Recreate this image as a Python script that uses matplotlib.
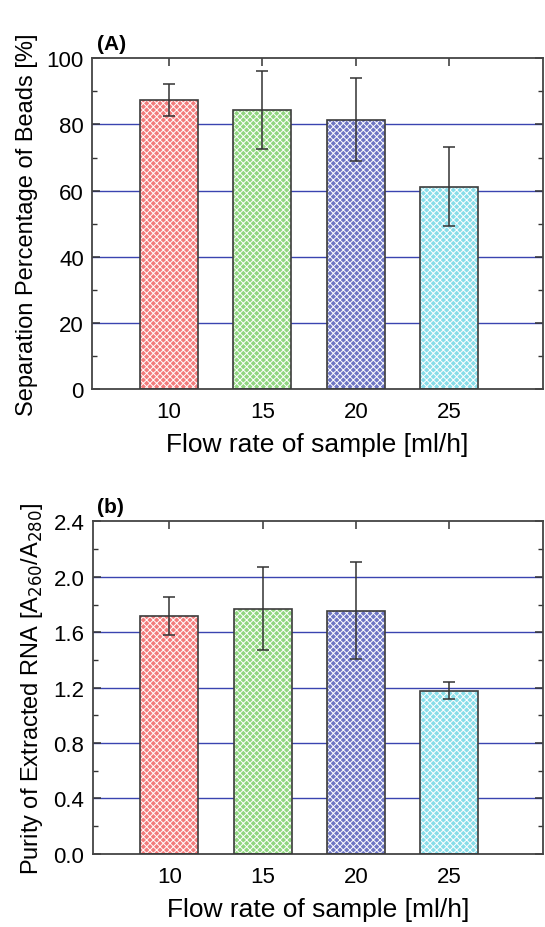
import matplotlib.pyplot as plt
import numpy as np
from matplotlib.ticker import MultipleLocator

plt.rcParams['font.family'] = ['Liberation Sans', 'DejaVu Sans']
plt.rcParams['hatch.linewidth'] = 0.7

flow = [10, 15, 20, 25]
sep = [87.3, 84.5, 81.5, 61.2]
sep_err = [4.8, 11.8, 12.7, 12.0]
purity = [1.717, 1.77, 1.754, 1.177]
purity_err = [0.14, 0.30, 0.35, 0.06]
colors = ['#f27c7c', '#90d680', '#6e76c4', '#88dde9']

fig = plt.figure(figsize=(5.45, 9.28), dpi=100)
ax1 = fig.add_axes([0.169, 0.580, 0.827, 0.356])
ax2 = fig.add_axes([0.170, 0.079, 0.826, 0.358])


def draw(ax, vals, errs, ymax, major, minor, ylabel, tag):
    ax.set_axisbelow(True)
    for y in np.arange(major, ymax - 1e-9, major):
        ax.axhline(y, color='#3a44b0', lw=1.0, zorder=0)
    ax.bar(flow, vals, width=3.1, color=colors, hatch='xxxxx', edgecolor='white',
           linewidth=0, zorder=2)
    ax.bar(flow, vals, width=3.1, color='none', edgecolor='#3c3c3c', linewidth=1.2, zorder=3)
    ax.errorbar(flow, vals, yerr=errs, fmt='none', ecolor='#333333', elinewidth=1.1,
                capsize=4.5, capthick=1.1, zorder=4)
    ax.set_xlim(5.9, 30)
    ax.set_ylim(0, ymax)
    ax.set_xticks(flow)
    ax.yaxis.set_major_locator(MultipleLocator(major))
    ax.yaxis.set_minor_locator(MultipleLocator(minor))
    ax.tick_params(direction='in', which='both', top=True, right=True, labelsize=16,
                   color='#333333')
    ax.tick_params(which='major', length=6, width=1.1)
    ax.tick_params(axis='x', pad=9)
    ax.tick_params(axis='y', pad=6)
    ax.tick_params(which='minor', length=3.5, width=1.0)
    for s in ax.spines.values():
        s.set_color('#444444')
        s.set_linewidth(1.3)
    ax.set_xlabel('Flow rate of sample [ml/h]', fontsize=19, labelpad=7)
    ax.set_ylabel(ylabel, fontsize=17, labelpad=6)
    ax.text(0.01, 1.015, tag, transform=ax.transAxes, fontsize=15, fontweight='bold',
            ha='left', va='bottom')


draw(ax1, sep, sep_err, 100, 20, 10, 'Separation Percentage of Beads [%]', '(A)')
draw(ax2, purity, purity_err, 2.4, 0.4, 0.2,
     'Purity of Extracted RNA [A$_{260}$/A$_{280}$]', '(b)')
ax2.yaxis.set_major_formatter(plt.FormatStrFormatter('%.1f'))

fig.savefig('out.png', dpi=100)
